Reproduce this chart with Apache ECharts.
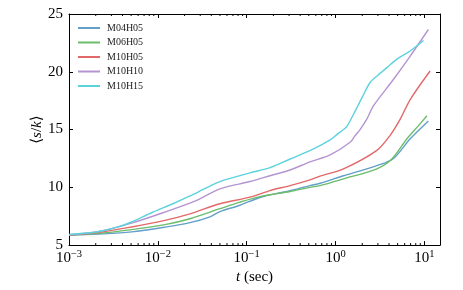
<!DOCTYPE html>
<html>
<head>
<meta charset="utf-8">
<script src="https://cdn.jsdelivr.net/npm/echarts@6/dist/echarts.min.js"></script>
<style>html,body{margin:0;padding:0;background:#fff}#c{width:463px;height:290px}</style>
</head>
<body>
<div id="c"></div>
<script>
// ---- data ----
const seriesNames = ['M04H05', 'M06H05', 'M10H05', 'M10H10', 'M10H15'];
const M04H05 = [[0.001,5.85],[0.0021,5.95],[0.00505,6.14],[0.012,6.55],[0.023,6.94],[0.0386,7.45],[0.05,7.9],[0.084,8.45],[0.141,9.12],[0.308,9.72],[0.516,10.15],[0.67,10.35],[1.23,11.0],[2.92,11.88],[4.5,12.5],[6.93,14.2],[11.1,15.75]];
const M06H05 = [[0.001,5.87],[0.0021,6.0],[0.00505,6.34],[0.012,6.77],[0.023,7.28],[0.05,8.15],[0.084,8.72],[0.141,9.2],[0.308,9.64],[0.516,10.0],[0.67,10.15],[1.23,10.73],[2.92,11.6],[4.3,12.45],[6.37,14.2],[8.5,15.3],[10.7,16.2]];
const M10H05 = [[0.001,5.88],[0.0021,6.08],[0.00505,6.57],[0.012,7.14],[0.023,7.7],[0.05,8.58],[0.109,9.15],[0.183,9.72],[0.308,10.15],[0.516,10.65],[0.67,10.97],[1.23,11.6],[2.92,13.2],[4.12,14.5],[5.35,15.9],[6.93,17.6],[11.6,20.07]];
const M10H10 = [[0.001,5.9],[0.0021,6.15],[0.00505,6.9],[0.012,7.86],[0.0261,8.8],[0.05,9.87],[0.109,10.5],[0.183,11.0],[0.308,11.5],[0.516,12.2],[0.869,12.8],[1.46,13.9],[1.66,14.47],[1.89,15.0],[2.25,15.9],[2.67,17.05],[4.5,19.35],[6.93,21.36],[11.1,23.66]];
const M10H15 = [[0.001,5.92],[0.0021,6.15],[0.0035,6.55],[0.00505,7.0],[0.0085,7.8],[0.015,8.6],[0.023,9.25],[0.035,9.95],[0.05,10.5],[0.109,11.25],[0.183,11.7],[0.308,12.45],[0.559,13.3],[0.869,14.1],[1.05,14.6],[1.23,15.0],[1.35,15.3],[1.59,16.3],[2.0,17.8],[2.45,19.07],[3.0,19.7],[3.79,20.36],[4.91,21.1],[6.93,21.8],[9.8,22.7]];
const allSeries = [M04H05, M06H05, M10H05, M10H10, M10H15];
const colors = ['#62a0ca', '#6bbc6b', '#e26869', '#b495d1', '#5cd2dd'];
const xMin = 0.001, xMax = 15;
const yMin = 5, yMax = 25, yStep = 5;
const minorX = [];
[0.001, 0.01, 0.1, 1].forEach(d => { for (let k = 2; k <= 9; k++) minorX.push(+(d * k).toPrecision(3)); });

const FONT = '"Liberation Serif", "DejaVu Serif", serif';
const chart = echarts.init(document.getElementById('c'), null, {renderer: 'canvas'});

function decadeLabel(v) {
  const e = Math.round(Math.log10(v));
  if (Math.abs(v - Math.pow(10, e)) / v > 1e-6) return '';
  const es = e < 0 ? '\u2212' + (-e) : String(e);
  return '{b|10}{s|' + es + '}';
}

const axisCommonX = {
  type: 'log', logBase: 10, min: xMin, max: xMax,
  axisLine: {show: true, lineStyle: {color: '#000', width: 1}},
  axisTick: {show: true, inside: true, length: 4, lineStyle: {color: '#000', width: 1}},
  splitLine: {show: false}, minorTick: {show: false}
};
const axisCommonY = {
  type: 'value', min: yMin, max: yMax, interval: yStep,
  axisLine: {show: true, lineStyle: {color: '#000', width: 1}},
  axisTick: {show: true, inside: true, length: 4, lineStyle: {color: '#000', width: 1}},
  splitLine: {show: false}
};

const series = allSeries.map((d, i) => ({
  name: seriesNames[i], type: 'line', data: d, showSymbol: false, symbol: 'none',
  smooth: 0.3,
  lineStyle: {width: 1.4, color: colors[i]}, itemStyle: {color: colors[i]}, z: 3
}));
series.push({
  name: 'minor', type: 'custom', silent: true, xAxisIndex: 0, yAxisIndex: 0,
  data: minorX.map(v => [v, yMin]),
  renderItem: function (params, api) {
    const t = api.value(0);
    const b = api.coord([t, yMin]);
    const tp = api.coord([t, yMax]);
    const st = {stroke: '#000', lineWidth: 1};
    return {type: 'group', children: [
      {type: 'line', shape: {x1: b[0], y1: b[1], x2: b[0], y2: b[1] - 2}, style: st},
      {type: 'line', shape: {x1: tp[0], y1: tp[1], x2: tp[0], y2: tp[1] + 2}, style: st}
    ]};
  }, z: 5
});

chart.setOption({
  animation: false,
  backgroundColor: '#fff',
  grid: {left: 69, right: 23, top: 14, bottom: 44},
  legend: {
    data: seriesNames, orient: 'vertical', left: 78, top: 23, padding: 0,
    icon: 'rect', itemWidth: 22, itemHeight: 2, itemGap: 4.5,
    textStyle: {fontFamily: FONT, fontSize: 10, color: '#222', lineHeight: 10, padding: [0, 0, 0, 2]}
  },
  xAxis: [
    Object.assign({}, axisCommonX, {
      position: 'bottom',
      name: '{i|t} (sec)', nameLocation: 'middle', nameGap: 24,
      nameTextStyle: {fontFamily: FONT, fontSize: 15, color: '#000',
        rich: {i: {fontFamily: FONT, fontStyle: 'italic', fontSize: 15}}},
      axisLabel: {
        show: true, margin: 4, formatter: decadeLabel, color: '#000', showMaxLabel: false,
        rich: {
          b: {fontFamily: FONT, fontSize: 15, color: '#000', lineHeight: 16, verticalAlign: 'bottom'},
          s: {fontFamily: FONT, fontSize: 10.5, color: '#000', lineHeight: 8, verticalAlign: 'top'}
        }
      }
    }),
    Object.assign({}, axisCommonX, {position: 'top', axisLabel: {show: false}})
  ],
  yAxis: [
    Object.assign({}, axisCommonY, {
      position: 'left',
      name: '{r|\u27E8}{i|s}{r|/}{i|k}{r|\u27E9}', nameLocation: 'middle', nameGap: 24,
      nameMoveOverlap: false,
      nameTextStyle: {fontFamily: FONT, fontSize: 15, color: '#000',
        rich: {r: {fontFamily: FONT, fontSize: 15}, i: {fontFamily: FONT, fontStyle: 'italic', fontSize: 15}}},
      axisLabel: {show: true, margin: 6, color: '#000', fontFamily: FONT, fontSize: 15}
    }),
    Object.assign({}, axisCommonY, {position: 'right', axisLabel: {show: false}})
  ],
  series: series
});
</script>
</body>
</html>
